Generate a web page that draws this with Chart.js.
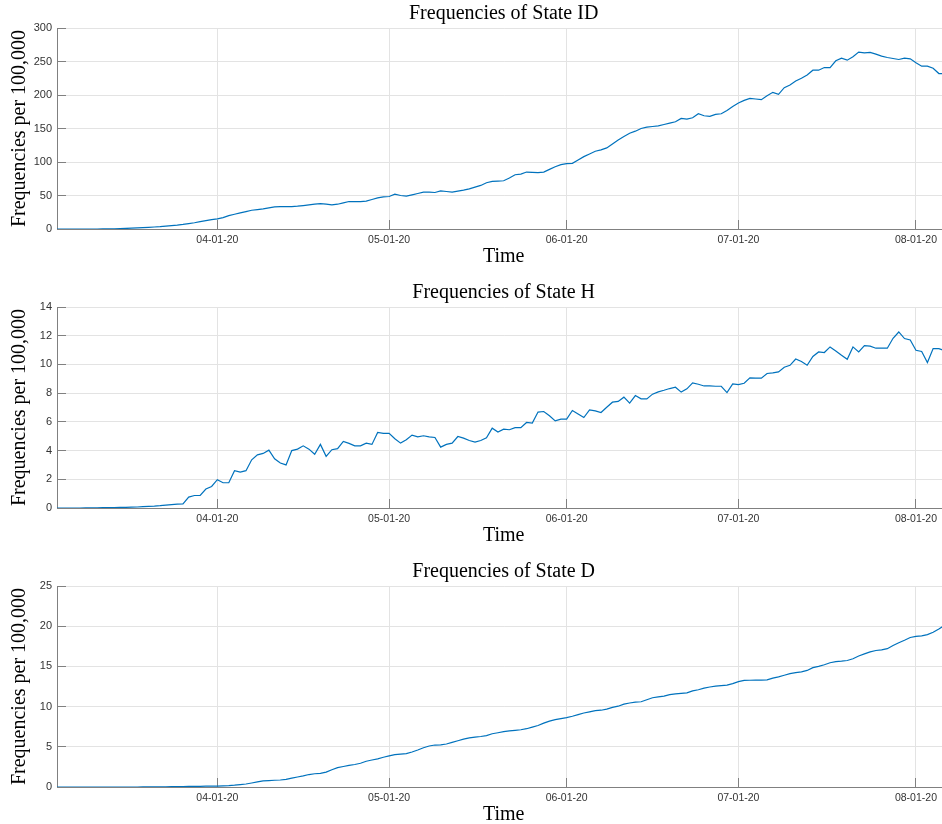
<!DOCTYPE html>
<html><head><meta charset="utf-8">
<script src="https://cdn.jsdelivr.net/npm/chart.js@4"></script>
<style>
html,body{margin:0;padding:0;background:#fff;overflow:hidden;width:942px;height:824px;}
.panel{position:absolute;left:0;width:951px;height:279px;}
</style></head><body>
<div class="panel" style="top:0px"><canvas id="c1" width="951" height="279"></canvas></div>
<div class="panel" style="top:279px"><canvas id="c2" width="951" height="279"></canvas></div>
<div class="panel" style="top:558px"><canvas id="c3" width="951" height="279"></canvas></div>
<script>
// x values are days counted from 03-04-20
const tickDays = [28, 58, 89, 119, 150];
const tickLabels = ['04-01-20', '05-01-20', '06-01-20', '07-01-20', '08-01-20'];

const stateID = [
  0,0,0,0,0,0,0,0,0.1,0.2,0.3,
  0.5,0.8,1.2,1.6,2,2.5,3,3.5,4.2,5,
  5.8,6.8,8,9.3,11,12.5,14,15,17,20,
  22,24,26,28,29,30,31.5,33,33.5,33.5,
  33.5,34,35,36,37,38,37,36,37,39,
  41,41,41,41.5,44,46.5,48,48.5,52,50,
  49,51,53,55,55,54.5,57,56,55,56.5,
  58,60,62.5,65,69,71,71.5,72,76,81,
  82,85,84.5,84,85,89,93,96,97.5,98,
  103,108,112,116,118,121,127,133,138,143,
  146,150,152,153,154,156,158,160,165,164,
  166,172,169,168,171,172,177,183,188,192,
  195,194,193,199,204,201,211,215,221,225,
  230,237,237,241,241,251,255,252,257,264,
  263,263.5,261,258,256,254.5,253,255,254,248,
  243,243,240,232,232,232
];

const stateH = [
  0,0,0,0,0,0.01,0.01,0.01,0.02,0.02,0.03,
  0.04,0.05,0.06,0.07,0.09,0.11,0.13,0.16,0.2,0.24,
  0.27,0.28,0.76,0.87,0.88,1.32,1.5,1.97,1.76,1.76,
  2.6,2.5,2.6,3.36,3.7,3.8,4.03,3.43,3.13,3.0,
  4.0,4.1,4.33,4.1,3.74,4.43,3.6,4.06,4.13,4.64,
  4.5,4.33,4.33,4.52,4.43,5.26,5.2,5.2,4.82,4.52,
  4.75,5.08,4.96,5.03,4.96,4.91,4.24,4.43,4.52,4.98,
  4.87,4.7,4.59,4.7,4.89,5.56,5.29,5.49,5.45,5.6,
  5.6,5.96,5.91,6.68,6.72,6.42,6.07,6.19,6.19,6.79,
  6.54,6.3,6.84,6.77,6.65,7.02,7.37,7.42,7.72,7.3,
  7.83,7.6,7.6,7.93,8.09,8.2,8.32,8.41,8.07,8.3,
  8.72,8.62,8.5,8.5,8.48,8.48,8.04,8.65,8.6,8.69,
  9.06,9.04,9.04,9.37,9.41,9.48,9.8,9.94,10.38,10.2,
  9.94,10.55,10.87,10.83,11.22,10.94,10.64,10.36,11.22,10.87,
  11.31,11.27,11.13,11.13,11.13,11.82,12.26,11.8,11.7,10.99,
  10.9,10.13,11.1,11.1,10.96,10.9
];

const stateD = [
  0,0,0,0,0,0,0,0,0,0,0,
  0,0,0,0,0.01,0.01,0.02,0.02,0.03,0.04,
  0.05,0.06,0.07,0.08,0.09,0.1,0.11,0.12,0.15,0.18,
  0.23,0.3,0.37,0.5,0.63,0.75,0.8,0.84,0.87,0.95,
  1.1,1.24,1.38,1.55,1.65,1.7,1.85,2.15,2.4,2.55,
  2.7,2.8,2.95,3.2,3.36,3.5,3.7,3.87,4.03,4.1,
  4.15,4.35,4.6,4.88,5.1,5.22,5.25,5.35,5.55,5.75,
  5.95,6.1,6.2,6.28,6.4,6.62,6.75,6.88,6.98,7.05,
  7.12,7.25,7.45,7.65,7.95,8.2,8.38,8.5,8.62,8.8,
  9.0,9.2,9.35,9.49,9.55,9.68,9.9,10.05,10.3,10.45,
  10.55,10.6,10.85,11.1,11.2,11.3,11.48,11.58,11.65,11.7,
  11.95,12.1,12.3,12.44,12.55,12.62,12.67,12.85,13.1,13.25,
  13.28,13.3,13.3,13.32,13.55,13.7,13.9,14.1,14.22,14.32,
  14.5,14.85,15.0,15.2,15.45,15.6,15.65,15.73,15.95,16.3,
  16.55,16.8,16.98,17.05,17.2,17.6,17.95,18.25,18.6,18.74,
  18.8,18.95,19.25,19.65,20.1,20.4
];

const panelTitles = ['Frequencies of State ID', 'Frequencies of State H', 'Frequencies of State D'];
const yMaxes = [300, 14, 25];
const ySteps = [50, 2, 5];
const xTitle = 'Time';
const yTitle = 'Frequencies per 100,000';

const serif = '"Liberation Serif", "Times New Roman", serif';
const sans = '"Liberation Sans", Arial, sans-serif';
const gridColor = '#e3e3e3';
const axisColor = '#808080';

function makeChart(id, title, values, ymax, ystep) {
  return new Chart(document.getElementById(id), {
    type: 'line',
    data: {
      datasets: [{
        data: values.map((v, i) => ({ x: i, y: v })),
        borderColor: '#0072BD',
        borderWidth: 1.2,
        pointRadius: 0,
        tension: 0,
        fill: false
      }]
    },
    options: {
      responsive: false,
      animation: false,
      devicePixelRatio: 1,
      layout: { padding: 0 },
      plugins: {
        legend: { display: false },
        tooltip: { enabled: false },
        title: {
          display: true, text: title, fullSize: false, color: '#000',
          font: { family: serif, size: 20, weight: 'normal', lineHeight: 1.2 },
          padding: { top: 2, bottom: 2 }
        }
      },
      scales: {
        x: {
          type: 'linear', min: 0, max: 156,
          afterBuildTicks: s => { s.ticks = tickDays.map(v => ({ value: v })); },
          afterFit: s => { s.height = 50; },
          ticks: {
            callback: v => tickLabels[tickDays.indexOf(v)] || '',
            maxRotation: 0, autoSkip: false, color: '#333',
            font: { family: sans, size: 10.5 }, padding: 14
          },
          grid: { color: gridColor, tickColor: axisColor, tickLength: -9, lineWidth: 1 },
          border: { color: axisColor, width: 1 },
          title: {
            display: true, text: xTitle, color: '#000',
            font: { family: serif, size: 20, weight: 'normal', lineHeight: 1.2 },
            padding: { top: 0, bottom: 10 }
          }
        },
        y: {
          min: 0, max: ymax,
          afterFit: s => { s.width = 57; },
          ticks: {
            stepSize: ystep, color: '#333',
            font: { family: sans, size: 11 }, padding: 14
          },
          grid: { color: gridColor, tickColor: axisColor, tickLength: -9, lineWidth: 1 },
          border: { color: axisColor, width: 1 },
          title: {
            display: true, text: yTitle, color: '#000',
            font: { family: serif, size: 20, weight: 'normal', lineHeight: 1.2 },
            padding: { top: 8, bottom: 0 }
          }
        }
      }
    }
  });
}

makeChart('c1', panelTitles[0], stateID, yMaxes[0], ySteps[0]);
makeChart('c2', panelTitles[1], stateH, yMaxes[1], ySteps[1]);
makeChart('c3', panelTitles[2], stateD, yMaxes[2], ySteps[2]);
</script>
</body></html>
